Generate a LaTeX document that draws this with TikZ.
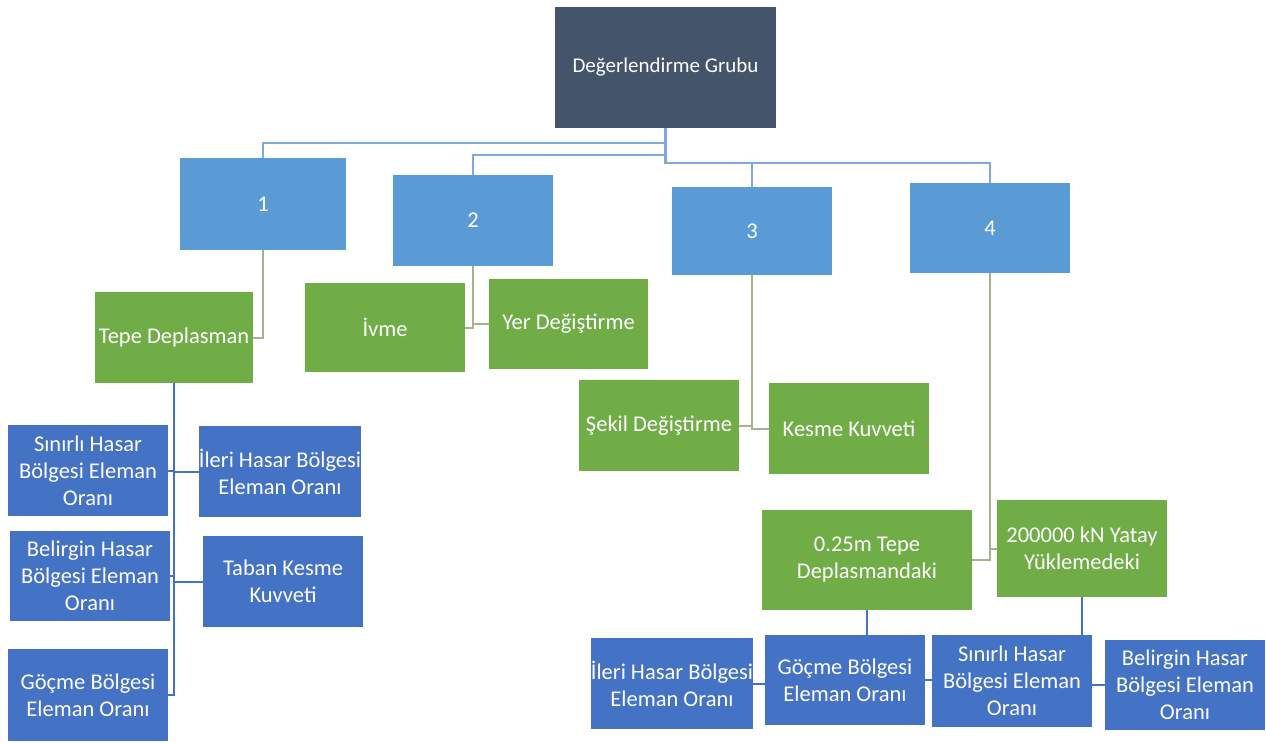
\documentclass[tikz,border=0pt]{standalone}
\usepackage{fontspec}
\setmainfont{Carlito}
\usetikzlibrary{backgrounds}
\definecolor{topc}{HTML}{44546A}
\definecolor{lvl}{HTML}{5B9BD5}
\definecolor{grn}{HTML}{70AD47}
\definecolor{dblue}{HTML}{4472C4}
\definecolor{lineA}{HTML}{7FA9DC}
\definecolor{lineG}{HTML}{A3B38C}
\definecolor{lineB}{HTML}{4472C4}
\begin{document}
\begin{tikzpicture}[x=1pt,y=-1pt,
  box/.style={rectangle, inner sep=0pt, align=center, text=white,
    font=\fontsize{22.5}{27}\selectfont},
  topbox/.style={box, fill=topc, font=\fontsize{21}{25}\selectfont},
  lvlbox/.style={box, fill=lvl, minimum width=160, minimum height=90},
  grnbox/.style={box, fill=grn, minimum width=160, minimum height=90},
  blubox/.style={box, fill=dblue, minimum width=160, minimum height=91},
  lA/.style={draw=lineA, line width=2.5pt},
  lG/.style={draw=lineG, line width=2pt},
  lB/.style={draw=lineB, line width=2pt}]
\useasboundingbox (0,0) rectangle (1266,742);
% nodes
\node[topbox, minimum width=221, minimum height=121] (top) at (665.5,67.5) {Değerlendirme Grubu};
\node[lvlbox, minimum width=166, minimum height=92] (b1) at (263,204) {1};
\node[lvlbox, minimum height=91] (b2) at (473,220.5) {2};
\node[lvlbox, minimum height=88] (b3) at (752,231) {3};
\node[lvlbox] (b4) at (990,228) {4};
\node[grnbox, minimum width=158, minimum height=91] (tepe) at (174,337.5) {Tepe Deplasman};
\node[grnbox, minimum height=89] (ivme) at (385,327.5) {İvme};
\node[grnbox, minimum width=159] (yer) at (568.5,324) {Yer Değiştirme};
\node[grnbox, minimum height=91] (sekil) at (659,425.5) {Şekil Değiştirme};
\node[grnbox, minimum height=91] (kesme) at (849,428.5) {Kesme Kuvveti};
\node[grnbox, minimum width=210, minimum height=100] (g025) at (867,560) {0.25m Tepe\\Deplasmandaki};
\node[grnbox, minimum width=170, minimum height=97] (g2000) at (1082,548.5) {200000 kN Yatay\\Yüklemedeki};
\node[blubox] (L1) at (88,470.5) {Sınırlı Hasar\\Bölgesi Eleman\\Oranı};
\node[blubox] (L2) at (280,471.5) {İleri Hasar Bölgesi\\Eleman Oranı};
\node[blubox, minimum height=90] (L3) at (90,576) {Belirgin Hasar\\Bölgesi Eleman\\Oranı};
\node[blubox] (L4) at (283,581.5) {Taban Kesme\\Kuvveti};
\node[blubox, minimum height=92] (L5) at (88,695) {Göçme Bölgesi\\Eleman Oranı};
\node[blubox] (R1) at (672,683.5) {İleri Hasar Bölgesi\\Eleman Oranı};
\node[blubox, minimum height=90] (R2) at (845,680) {Göçme Bölgesi\\Eleman Oranı};
\node[blubox, minimum height=92] (R3) at (1012,681) {Sınırlı Hasar\\Bölgesi Eleman\\Oranı};
\node[blubox, minimum height=90] (R4) at (1185,685) {Belirgin Hasar\\Bölgesi Eleman\\Oranı};
% connectors
\begin{scope}[on background layer]
\fill[white] (0,0) rectangle (1266,742);
\draw[lA] (top.south) -- ++(0,15) -| (b1.north);
\draw[lA] (top.south) -- ++(0,27) -| (b2.north);
\draw[lA] (top.south) -- ++(0,35) -| (b3.north);
\draw[lA] (top.south) -- ++(0,35) -| (b4.north);
\draw[lG] (b1.south) |- (tepe.east);
\draw[lG] (b2.south) |- (ivme.east);
\draw[lG] (b2.south) |- (yer.west);
\draw[lG] (b3.south) |- (sekil.east);
\draw[lG] (b3.south) |- (kesme.west);
\draw[lG] (b4.south) |- (g025.east);
\draw[lG] (b4.south) |- (g2000.west);
\draw[lB] (tepe.south) |- (L1.east);
\draw[lB] (tepe.south) |- (L2.west);
\draw[lB] (tepe.south) |- (L3.east);
\draw[lB] (tepe.south) |- (L4.west);
\draw[lB] (tepe.south) |- (L5.east);
\draw[lB] (g025.south) |- (R1.east);
\draw[lB] (g025.south) -- (g025.south |- R2.center);
\draw[lB] (g2000.south) |- (R2.east);
\draw[lB] (g2000.south) -- (g2000.south |- R3.center);
\draw[lB] (g2000.south) |- (R4.west);
\end{scope}
\end{tikzpicture}
\end{document}
